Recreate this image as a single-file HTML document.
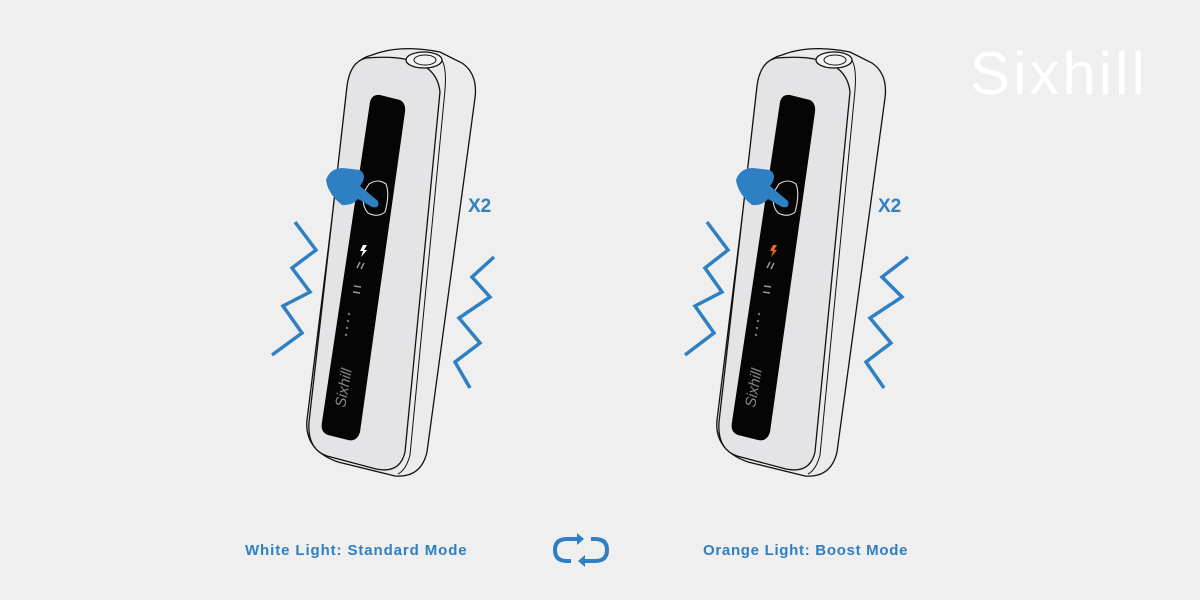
<!DOCTYPE html>
<html><head><meta charset="utf-8"><style>
html,body{margin:0;padding:0;background:#efefef;}
svg{display:block}
</style></head><body>
<svg width="1200" height="600" viewBox="0 0 1200 600" xmlns="http://www.w3.org/2000/svg">
<rect width="1200" height="600" fill="#efefef"/>
<defs>
<g id="dev">
  <path d="M372,55 Q400,44 440,52 L462,63 Q478,74 475,98 L427,452 Q421,478 395,476 L338,462 Q304,450 307,420 L349,82 Q352,60 372,55 Z" fill="#ebebec" stroke="#111" stroke-width="1.3"/>
  <path d="M366,58 Q436,52 440,92 L405,452 Q400,474 376,469 L327,456 Q307,449 309,422 L347,86 Q350,62 366,58 Z" fill="#e4e4e6" stroke="#111" stroke-width="1.3"/>
  <path d="M440,58 Q447,64 445,90 L410,455 Q406,470 398,474" fill="none" stroke="#111" stroke-width="1"/>
  <ellipse cx="424" cy="60" rx="18" ry="8" fill="#f2f2f2" stroke="#111" stroke-width="1.3"/>
  <ellipse cx="425" cy="60" rx="11" ry="5" fill="#f2f2f2" stroke="#111" stroke-width="1"/>
  <path d="M380,95 L400,100 Q406,103 405,112 L360,432 Q357,442 348,440 L328,435 Q320,432 322,422 L370,102 Q372,94 380,95 Z" fill="#050505"/>
  <path d="M369,184 Q378,178 386,184 Q390,194 385,212 Q378,218 368,213 Q361,205 364,192 Z" fill="none" stroke="#ddd" stroke-width="1.1"/>
  <path d="M343,168 Q330,168 326,180 Q328,194 342,205 Q352,206 358,199 L372,207 Q380,209 378,201 L360,186 Q368,176 360,170 Z" fill="#2e80c3"/>
  <g fill="#777"><circle cx="349" cy="314" r="1.2"/><circle cx="348" cy="321" r="1.2"/><circle cx="347" cy="328" r="1.2"/><circle cx="346" cy="335" r="1.2"/></g>
  <g stroke="#999" stroke-width="1.5"><line x1="357" y1="268" x2="360" y2="262"/><line x1="361" y1="269" x2="364" y2="263"/><line x1="354" y1="286" x2="361" y2="287"/><line x1="353" y1="292" x2="360" y2="293"/></g>
  <text x="0" y="0" transform="translate(345,408) rotate(-80)" font-family="Liberation Sans, sans-serif" font-style="italic" font-size="15" fill="#888">Sixhill</text>
</g>
</defs>
<use href="#dev"/>
<path d="M363,245 L367,245 L364,250 L367,250 L361,257 L363,251 L360,251 Z" fill="#fff"/>
<use href="#dev" transform="translate(410,0)"/>
<path d="M773,245 L777,245 L774,250 L777,250 L771,257 L773,251 L770,251 Z" fill="#f26a21"/>
<g fill="none" stroke="#2e80c3" stroke-width="3.5" stroke-linejoin="miter">
<polyline points="295,222 316,250 292,268 310,292 283,306 302,333 272,355"/>
<polyline points="494,257 472,277 490,297 459,318 480,343 455,362 470,388"/>
<polyline points="707,222 728,250 705,268 722,292 695,306 714,333 685,355"/>
<polyline points="908,257 882,277 902,297 870,318 891,343 866,362 884,388"/>
</g>
<g font-family="Liberation Sans, sans-serif" font-weight="bold" fill="#2e80c3">
<text x="468" y="212" font-size="19">X2</text>
<text x="878" y="212" font-size="19">X2</text>
<text x="245" y="555" font-size="15" letter-spacing="0.9">White Light: Standard Mode</text>
<text x="703" y="555" font-size="15" letter-spacing="0.7">Orange Light: Boost Mode</text>
</g>
<g fill="none" stroke="#2e80c3" stroke-width="4">
<path d="M580,539 L567,539 Q555,539 555,550 Q555,561 567,561 L571,561"/>
<path d="M582,561 L595,561 Q607,561 607,550 Q607,539 595,539 L591,539"/>
</g>
<path d="M577,533 L584,539 L577,545 Z" fill="#2e80c3"/>
<path d="M585,555 L578,561 L585,567 Z" fill="#2e80c3"/>
<text x="970" y="94" font-family="Liberation Sans, sans-serif" font-size="60" fill="#fff" letter-spacing="3">Sixhill</text>
</svg>
</body></html>
